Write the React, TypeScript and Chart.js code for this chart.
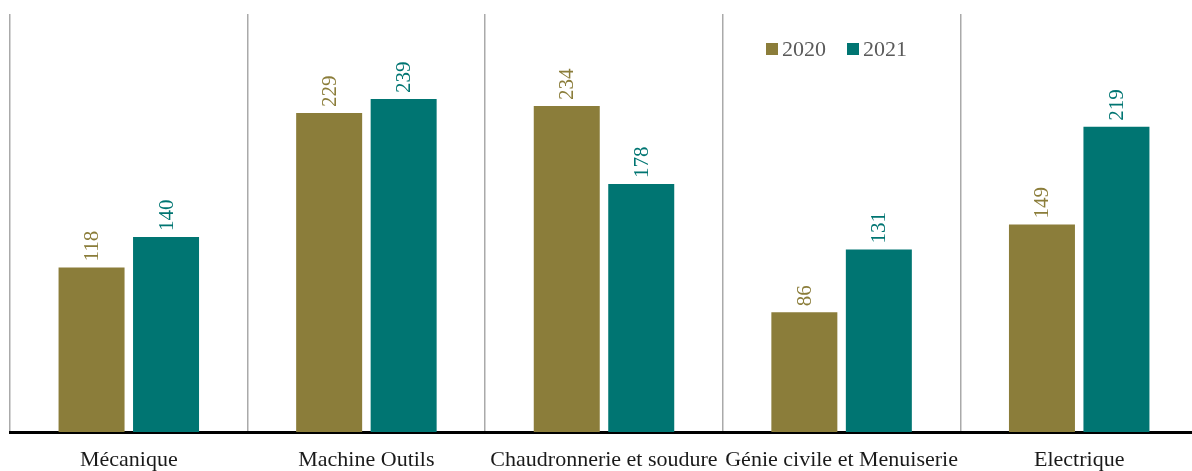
import React, { useEffect, useRef } from "react";
import { Chart, registerables } from "chart.js";

Chart.register(...registerables);

const categories = [
  "Mécanique",
  "Machine Outils",
  "Chaudronnerie et soudure",
  "Génie civile et Menuiserie",
  "Electrique",
];
const values2020 = [118, 229, 234, 86, 149];
const values2021 = [140, 239, 178, 131, 219];
const seriesLabels = ["2020", "2021"];
const seriesColors = ["#8b7d3a", "#007572"];

const FONT = "'Liberation Serif', 'DejaVu Serif', serif";

const valueLabelPlugin = {
  id: "valueLabels",
  afterDatasetsDraw(chart: any) {
    const ctx = chart.ctx;
    ctx.save();
    chart.data.datasets.forEach((ds: any, i: number) => {
      const meta = chart.getDatasetMeta(i);
      meta.data.forEach((bar: any, j: number) => {
        ctx.save();
        ctx.translate(bar.x, bar.y - 6);
        ctx.rotate(-Math.PI / 2);
        ctx.font = `21px ${FONT}`;
        ctx.fillStyle = ds.backgroundColor;
        ctx.textAlign = "left";
        ctx.textBaseline = "middle";
        ctx.fillText(String(ds.data[j]), 0, 1);
        ctx.restore();
      });
    });
    ctx.restore();
  },
};

const customLegendPlugin = {
  id: "customLegend",
  afterDraw(chart: any) {
    const ctx = chart.ctx;
    ctx.save();
    ctx.font = `22px ${FONT}`;
    ctx.textBaseline = "middle";
    ctx.textAlign = "left";
    let x = 766;
    const y = 49;
    chart.data.datasets.forEach((ds: any) => {
      ctx.fillStyle = ds.backgroundColor;
      ctx.fillRect(x, y - 6, 12, 12);
      ctx.fillStyle = "#5a5a5a";
      ctx.fillText(ds.label, x + 16, y + 1);
      x += 16 + ctx.measureText(ds.label).width + 21;
    });
    ctx.restore();
  },
};

export default function App() {
  const canvasRef = useRef<HTMLCanvasElement | null>(null);

  useEffect(() => {
    if (!canvasRef.current) return;
    const chart = new Chart(canvasRef.current, {
      type: "bar",
      data: {
        labels: categories,
        datasets: [
          {
            label: seriesLabels[0],
            data: values2020,
            backgroundColor: seriesColors[0],
            categoryPercentage: 0.627,
            barPercentage: 0.886,
          },
          {
            label: seriesLabels[1],
            data: values2021,
            backgroundColor: seriesColors[1],
            categoryPercentage: 0.627,
            barPercentage: 0.886,
          },
        ],
      },
      options: {
        animation: false,
        responsive: true,
        maintainAspectRatio: false,
        layout: { padding: { left: 10, top: 14, right: 0, bottom: 0 } },
        plugins: {
          legend: { display: false },
          tooltip: { enabled: false },
        },
        scales: {
          x: {
            grid: {
              display: true,
              offset: true,
              color: "#aaaaaa",
              lineWidth: 1.5,
              drawTicks: false,
            },
            border: { display: true, color: "#000000", width: 3 },
            ticks: {
              color: "#1a1a1a",
              font: { family: FONT, size: 22 },
              padding: 15,
              maxRotation: 0,
              autoSkip: false,
            },
            afterFit: (s: any) => {
              s.height = 39;
            },
          },
          y: {
            display: false,
            min: 0,
            max: 300,
          },
        },
      },
      plugins: [valueLabelPlugin, customLegendPlugin],
    });
    return () => chart.destroy();
  }, []);

  return (
    <div
      style={{
        position: "fixed",
        left: 0,
        top: 0,
        width: 1192,
        height: 471,
        overflow: "hidden",
        background: "#ffffff",
      }}
    >
      <div style={{ width: 1198, height: 471, position: "relative" }}>
        <canvas ref={canvasRef} />
      </div>
    </div>
  );
}
